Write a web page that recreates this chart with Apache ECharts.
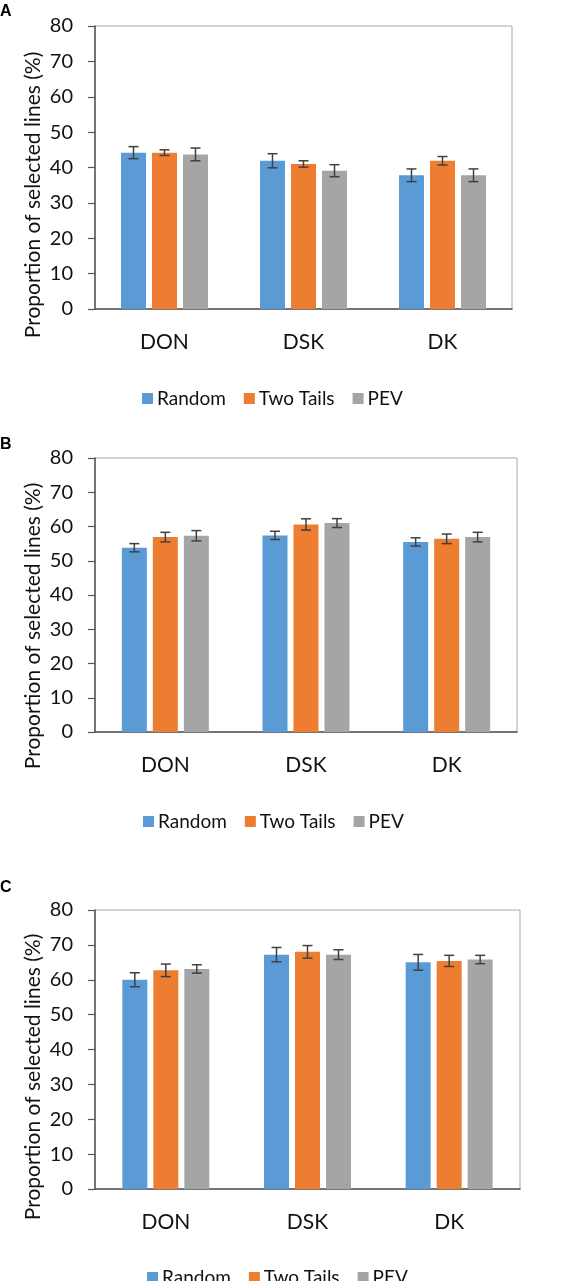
<!DOCTYPE html>
<html>
<head>
<meta charset="utf-8">
<script src="https://cdn.jsdelivr.net/npm/echarts@6/dist/echarts.min.js"></script>
<style>
html,body{margin:0;padding:0;background:#fff;}
#chart{width:584px;height:1281px;}
</style>
</head>
<body>
<div id="chart"></div>
<script>
// ---- Data ----
const categories = ['DON', 'DSK', 'DK'];
const seriesNames = ['Random', 'Two Tails', 'PEV'];
const panelLabels = ['A', 'B', 'C'];
const yAxisTitle = 'Proportion of selected lines (%)';
const yMin = 0, yMax = 80, yInterval = 10;

// Panel A
const aRandom = [44.2, 41.9, 37.8];
const aRandomErr = [1.7, 2.0, 1.8];
const aTwoTails = [44.2, 41.0, 41.9];
const aTwoTailsErr = [0.8, 0.9, 1.2];
const aPEV = [43.7, 39.1, 37.8];
const aPEVErr = [1.8, 1.7, 1.8];

// Panel B
const bRandom = [53.8, 57.4, 55.5];
const bRandomErr = [1.2, 1.2, 1.2];
const bTwoTails = [56.9, 60.6, 56.4];
const bTwoTailsErr = [1.4, 1.65, 1.4];
const bPEV = [57.3, 61.0, 56.9];
const bPEVErr = [1.5, 1.3, 1.4];

// Panel C
const cRandom = [60.0, 67.2, 65.0];
const cRandomErr = [2.0, 2.05, 2.25];
const cTwoTails = [62.7, 68.0, 65.4];
const cTwoTailsErr = [1.8, 1.8, 1.6];
const cPEV = [63.1, 67.2, 65.8];
const cPEVErr = [1.2, 1.4, 1.2];

// ---- Styling / layout ----
const colors = ['#5B9BD5', '#ED7D31', '#A5A5A5'];
const FONT = 'Lato, "Open Sans", sans-serif';
const TEXT_COLOR = '#111';
const BAR_W = 25;
const BAR_GAP_PX = 6;
const panels = [
  {vals: [aRandom, aTwoTails, aPEV], errs: [aRandomErr, aTwoTailsErr, aPEVErr],
   grid: {left: 95, top: 26, width: 417, height: 283}, legendTop: 384, legendLeft: 137, nameY: 195, letterY: 12},
  {vals: [bRandom, bTwoTails, bPEV], errs: [bRandomErr, bTwoTailsErr, bPEVErr],
   grid: {left: 95, top: 458, width: 422, height: 274}, legendTop: 807, legendLeft: 138, nameY: 626, letterY: 445},
  {vals: [cRandom, cTwoTails, cPEV], errs: [cRandomErr, cTwoTailsErr, cPEVErr],
   grid: {left: 95, top: 910, width: 425, height: 279}, legendTop: 1263, legendLeft: 142, nameY: 1077, letterY: 888}
];

function renderErr(params, api) {
  const cat = api.value(0), lo = api.value(1), hi = api.value(2), s = api.value(3);
  const p1 = api.coord([cat, lo]);
  const p2 = api.coord([cat, hi]);
  const x = p1[0] + (s - 1) * (BAR_W + BAR_GAP_PX);
  const st = {stroke: '#404040', lineWidth: 1.5};
  const cap = 5;
  return {
    type: 'group',
    children: [
      {type: 'line', shape: {x1: x, y1: p1[1], x2: x, y2: p2[1]}, style: st},
      {type: 'line', shape: {x1: x - cap, y1: p1[1], x2: x + cap, y2: p1[1]}, style: st},
      {type: 'line', shape: {x1: x - cap, y1: p2[1], x2: x + cap, y2: p2[1]}, style: st}
    ]
  };
}

const grids = [], xAxes = [], yAxes = [], series = [], legends = [], graphics = [];
panels.forEach((p, i) => {
  grids.push(Object.assign({show: true, borderColor: '#a8a8a8', borderWidth: 1}, p.grid));
  xAxes.push({
    type: 'category', gridIndex: i, data: categories,
    axisLine: {lineStyle: {color: '#555', width: 1.5}},
    axisTick: {show: false},
    axisLabel: {color: TEXT_COLOR, fontSize: 21, fontFamily: FONT, margin: 23}
  });
  yAxes.push({
    type: 'value', gridIndex: i, min: yMin, max: yMax, interval: yInterval,
    axisLine: {show: true, lineStyle: {color: '#555', width: 1.5}},
    axisTick: {show: true, length: 7, lineStyle: {color: '#555', width: 1.2}},
    splitLine: {show: false},
    axisLabel: {color: TEXT_COLOR, fontSize: 20, fontFamily: FONT, margin: 22}
  });
  seriesNames.forEach((name, s) => {
    series.push({
      type: 'bar', name: name, xAxisIndex: i, yAxisIndex: i,
      data: p.vals[s], barWidth: BAR_W, barGap: (BAR_GAP_PX / BAR_W * 100) + '%',
      itemStyle: {color: colors[s]}, z: 2
    });
  });
  const errData = [];
  seriesNames.forEach((name, s) => {
    p.vals[s].forEach((v, c) => {
      errData.push([c, v - p.errs[s][c], v + p.errs[s][c], s]);
    });
  });
  series.push({
    type: 'custom', name: 'err' + i, xAxisIndex: i, yAxisIndex: i,
    renderItem: renderErr, data: errData, encode: {x: 0, y: [1, 2]}, z: 5, silent: true
  });
  legends.push({
    data: seriesNames, top: p.legendTop, left: p.legendLeft,
    icon: 'rect', itemWidth: 11, itemHeight: 11, itemGap: 18,
    textStyle: {color: TEXT_COLOR, fontSize: 19, fontFamily: FONT, padding: [0, 0, 0, -1]}
  });
  graphics.push({
    type: 'text', x: 33, y: p.nameY, rotation: Math.PI / 2,
    style: {text: yAxisTitle, fill: TEXT_COLOR, font: '21px ' + FONT, textAlign: 'center', textVerticalAlign: 'middle'}
  });
  graphics.push({
    type: 'text', x: 0, y: p.letterY,
    style: {text: panelLabels[i], fill: '#000', font: 'bold 16px "Liberation Sans", Arial, sans-serif', textAlign: 'left', textVerticalAlign: 'middle'}
  });
});

const chart = echarts.init(document.getElementById('chart'), null, {renderer: 'canvas'});
chart.setOption({
  animation: false,
  backgroundColor: '#fff',
  grid: grids, xAxis: xAxes, yAxis: yAxes, legend: legends, series: series, graphic: graphics
});
</script>
</body>
</html>
